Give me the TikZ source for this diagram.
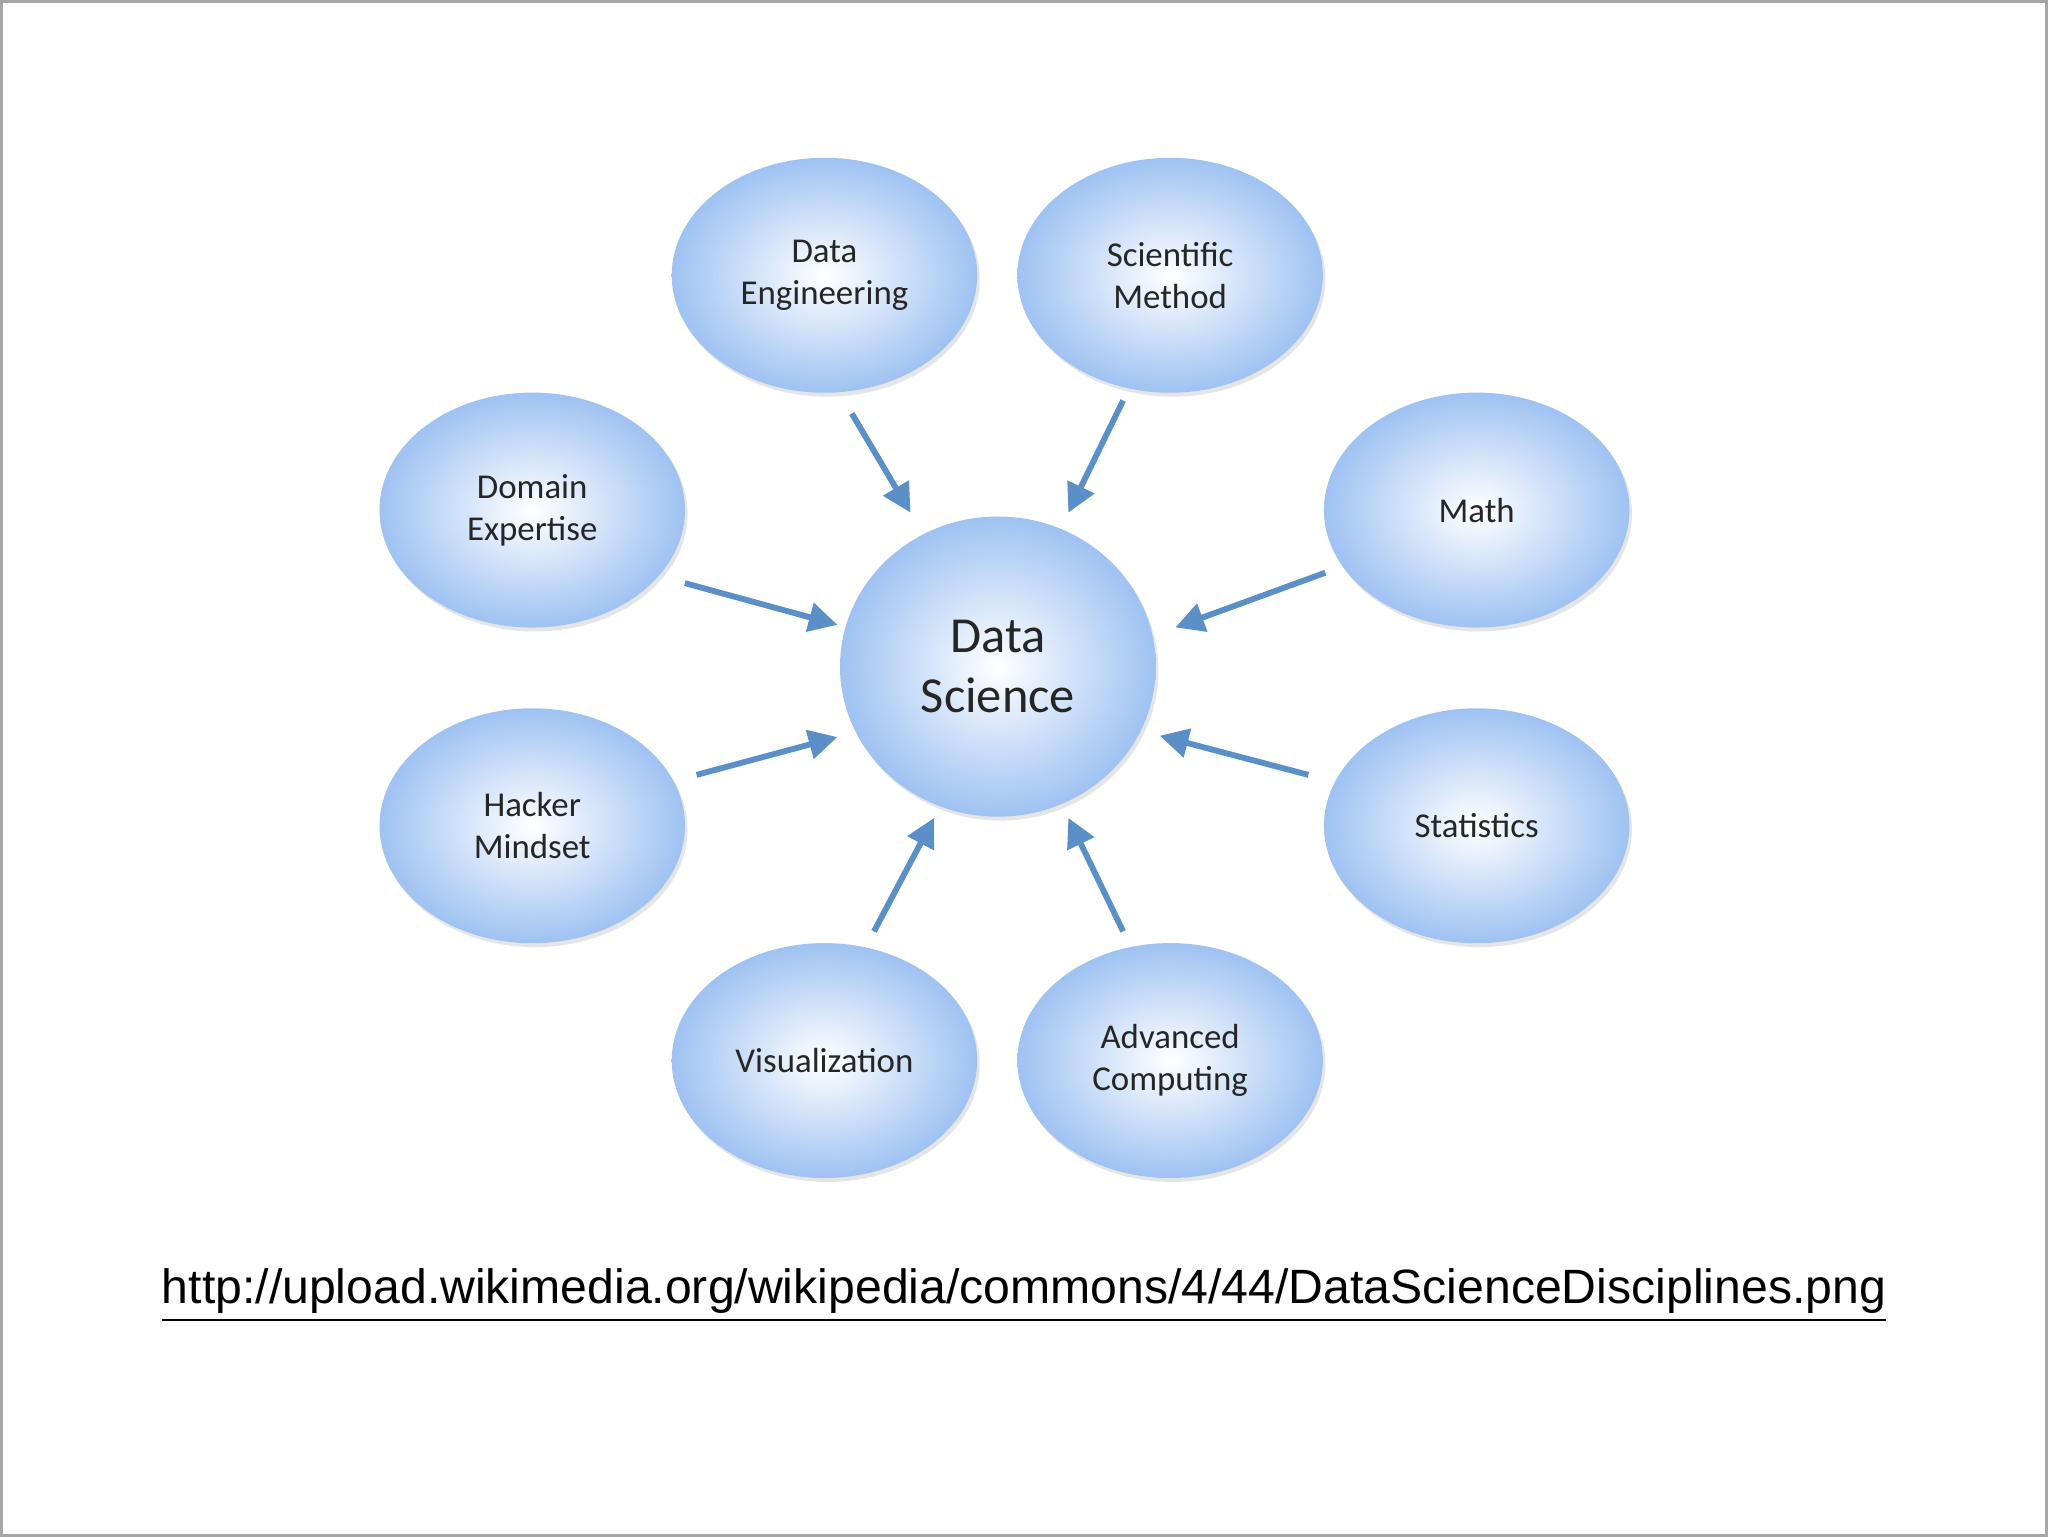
\documentclass[tikz,border=0pt]{standalone}
\usepackage{fontspec}
\setmainfont{Carlito}
\newfontfamily\urlfont{Liberation Sans}
\usetikzlibrary{shapes.geometric,arrows.meta,shadows}
\definecolor{edge}{HTML}{9FC2F2}
\definecolor{arr}{HTML}{5B8FC7}
\tikzset{
 bub/.style={ellipse,minimum width=2.34cm,minimum height=1.8cm,inner sep=0,
   inner color=white,outer color=edge,align=center,font=\fontsize{7.6}{9.2}\selectfont,
   text=black!85,drop shadow={shadow xshift=0.02cm,shadow yshift=-0.03cm,opacity=0.25,fill=black!40}},
 big/.style={bub,minimum width=2.42cm,minimum height=2.3cm,font=\fontsize{11}{13}\selectfont},
 arw/.style={draw=arr,line width=0.045cm,-{Triangle[length=0.22cm,width=0.22cm]}}
}
\begin{document}
\begin{tikzpicture}[x=0.01cm,y=-0.01cm]
\draw[gray!70,line width=0.02cm,fill=white] (0,0) rectangle (1568,1176);
\node[big] (ds) at (764,510) {Data\\Science};
\node[bub] (de) at (631,210) {Data\\Engineering};
\node[bub] (sm) at (896,210) {Scientific\\Method};
\node[bub] (dx) at (407,390) {Domain\\Expertise};
\node[bub] (ma) at (1131,390) {Math};
\node[bub] (hm) at (407,632) {Hacker\\Mindset};
\node[bub] (st) at (1131,632) {Statistics};
\node[bub] (vi) at (631,812) {Visualization};
\node[bub] (ac) at (896,812) {Advanced\\Computing};
\coordinate (a1) at (652,316); \coordinate (b1) at (697,392);
\coordinate (a2) at (860,306); \coordinate (b2) at (818,392);
\coordinate (a3) at (524,446); \coordinate (b3) at (641,478);
\coordinate (a4) at (1015,438); \coordinate (b4) at (900,480);
\coordinate (a5) at (533,593); \coordinate (b5) at (641,564);
\coordinate (a6) at (1002,593); \coordinate (b6) at (888,563);
\coordinate (a7) at (669,713); \coordinate (b7) at (715,626);
\coordinate (a8) at (860,713); \coordinate (b8) at (818,626);
\foreach \i in {1,...,8}{\draw[arw] (a\i) -- (b\i);}
\node[font=\urlfont\fontsize{10.5}{12}\selectfont,inner sep=0] (url) at (784,992)
 {\underline{http://upload.wikimedia.org/wikipedia/commons/4/44/DataScienceDisciplines.png}};
\end{tikzpicture}
\end{document}
